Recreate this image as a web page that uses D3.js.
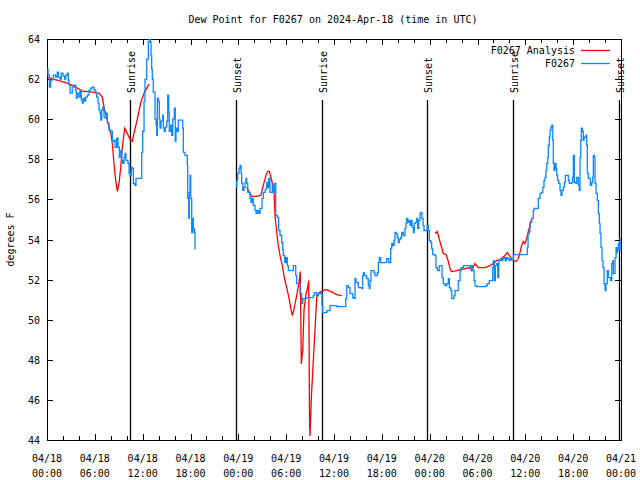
<!DOCTYPE html>
<html><head><meta charset="utf-8">
<script src="https://cdn.jsdelivr.net/npm/d3@7"></script>
<style>body{margin:0;background:#fff}svg{display:block}text{font-family:"DejaVu Sans Mono","Liberation Mono",monospace;font-size:10px;fill:#000}</style>
</head><body><svg id="c" width="640" height="480"></svg>
<script>
const title = "Dew Point for F0267 on 2024-Apr-18 (time in UTC)";
const yLabel = "degrees F";
const seriesNames = ["F0267 Analysis", "F0267"];
const startTime = "2024-04-18T00:00:00Z";
const endTime = "2024-04-21T00:00:00Z";
const yTicks = [44,46,48,50,52,54,56,58,60,62,64];
// hours since 04/18 00:00 UTC, dew point °F
const obsSeg1 = [[0.04,62.5],[0.13,62.2],[0.30,61.6],[0.46,61.95],[0.66,62.0],[0.79,62.2],[1.09,62.1],[1.29,62.35],[1.42,62.1],[1.63,62.0],[1.79,62.3],[2.01,62.15],[2.22,62.0],[2.35,62.2],[2.55,62.3],[2.67,61.95],[2.76,61.7],[2.89,61.3],[3.05,61.3],[3.17,61.6],[3.39,61.7],[3.60,61.45],[3.68,61.05],[3.80,61.3],[4.01,61.1],[4.14,61.4],[4.30,60.95],[4.43,60.8],[4.55,61.05],[4.73,60.9],[4.85,61.1],[5.06,61.2],[5.27,61.45],[5.48,61.55],[5.68,61.6],[5.90,61.45],[6.11,61.3],[6.23,61.1],[6.40,60.8],[6.52,60.45],[6.65,60.3],[6.74,59.95],[6.86,60.45],[6.99,60.6],[7.15,60.1],[7.31,60.05],[7.49,60.3],[7.56,59.8],[7.78,59.45],[7.99,59.4],[8.19,58.9],[8.40,58.95],[8.53,58.6],[8.74,59.05],[8.91,58.6],[9.07,58.1],[9.25,58.45],[9.37,57.95],[9.50,57.8],[9.66,58.1],[9.78,58.3],[9.91,57.95],[10.16,57.8],[10.29,57.3],[10.41,57.2],[10.57,57.6],[10.70,57.55],[10.83,56.8],[11.00,56.7],[11.16,57.05],[11.75,57.05],[11.88,58.35],[12.00,59.4],[12.17,60.9],[12.29,62.0],[12.51,63.0],[12.71,63.85],[12.83,64.3],[12.96,63.85],[13.05,63.2],[13.13,62.5],[13.21,62.0],[13.33,61.35],[13.46,61.35],[13.55,60.0],[13.67,59.7],[13.76,59.2],[13.84,61.05],[13.96,60.9],[14.09,60.0],[14.17,59.55],[14.30,59.9],[14.51,60.2],[14.59,59.55],[14.71,59.4],[14.84,59.6],[15.02,59.9],[15.14,61.2],[15.27,60.35],[15.34,59.4],[15.52,59.7],[15.64,59.2],[15.77,60.0],[15.97,60.55],[16.09,58.9],[16.18,59.55],[16.35,59.4],[16.47,59.95],[17.02,59.55],[17.10,58.35],[17.31,58.2],[17.60,57.7],[17.65,56.05],[17.78,55.05],[17.85,56.35],[17.94,57.2],[18.03,56.05],[18.15,54.35],[18.28,55.05],[18.35,54.55],[18.48,54.35],[18.57,53.5]];
const obsSeg2 = [[23.71,56.6],[23.80,56.95],[23.92,57.3],[24.09,57.55],[24.21,57.7],[24.34,57.3],[24.42,56.8],[24.55,56.45],[24.71,56.6],[24.84,56.85],[24.96,57.05],[25.05,56.8],[25.18,56.35],[25.46,56.05],[25.59,55.85],[25.72,56.05],[25.88,55.7],[26.09,55.45],[26.22,55.3],[26.38,55.45],[26.56,55.3],[26.72,55.55],[26.97,56.05],[27.13,56.35],[27.38,56.5],[27.56,56.85],[27.68,56.6],[27.81,57.05],[27.97,56.35],[28.26,56.7],[28.39,56.35],[28.51,56.8],[28.69,55.2],[28.89,55.1],[29.06,54.45],[29.23,54.2],[29.44,53.85],[29.57,53.5],[29.64,53.2],[29.82,52.85],[29.98,53.1],[30.14,52.7],[30.27,52.45],[30.90,52.7],[31.20,52.2],[31.32,51.8],[31.52,51.8],[31.74,51.3],[31.95,50.8],[32.08,51.05],[32.49,51.1],[33.40,51.2],[33.53,51.35],[33.83,51.2],[34.03,51.3],[34.25,51.35],[34.37,51.3],[34.50,50.7],[34.58,50.35],[35.09,50.45],[35.50,50.7],[36.34,50.65],[37.47,51.05],[37.60,51.7],[37.80,51.6],[38.01,51.3],[38.35,51.1],[38.51,51.05],[38.64,52.05],[38.76,51.85],[39.05,51.6],[39.48,51.55],[39.60,52.2],[39.68,52.35],[39.80,52.2],[40.10,52.05],[40.30,51.7],[40.43,51.55],[40.52,51.95],[40.64,52.45],[41.02,52.35],[41.14,52.2],[41.43,52.35],[41.56,52.85],[41.68,53.1],[41.86,52.85],[42.61,53.05],[42.86,52.85],[43.11,53.55],[43.24,53.8],[43.37,53.7],[43.53,53.95],[43.65,54.35],[43.78,54.3],[43.94,54.1],[44.07,53.85],[44.19,54.0],[44.37,54.1],[44.49,54.35],[44.70,54.2],[44.91,54.55],[45.03,54.8],[45.12,55.05],[45.25,54.85],[45.37,54.95],[45.54,54.7],[45.66,54.95],[45.79,54.6],[45.95,54.35],[46.07,54.8],[46.20,54.85],[46.38,55.05],[46.50,54.55],[46.63,54.95],[46.79,55.3],[46.92,55.35],[47.04,55.05],[47.17,54.7],[47.29,54.45],[47.70,54.7],[47.83,54.45],[47.96,53.95],[48.13,53.85],[48.25,53.55],[48.38,53.25],[48.67,53.2],[48.79,52.6],[48.96,52.45],[49.21,52.7],[49.42,52.7],[49.55,52.1],[49.71,51.8],[49.92,51.7],[50.14,51.8],[50.34,52.05],[50.47,51.6],[50.64,51.45],[50.77,51.05],[51.06,51.2],[51.18,51.45],[51.59,51.95],[51.81,52.45],[51.93,52.6],[52.22,52.7],[53.15,52.6],[53.28,52.7],[53.40,52.45],[53.57,51.95],[53.69,51.7],[53.90,51.65],[55.07,51.7],[55.23,51.8],[55.48,51.95],[55.91,52.6],[55.99,52.95],[56.12,51.95],[56.24,52.7],[56.42,52.8],[56.54,52.1],[56.67,52.95],[56.83,53.0],[57.04,52.95],[57.17,53.05],[57.33,53.1],[57.49,52.95],[57.66,53.1],[57.83,53.05],[57.99,52.95],[58.17,53.05],[58.30,53.0],[58.50,53.25],[60.25,53.6],[60.34,54.3],[60.50,54.4],[60.59,54.85],[60.80,55.05],[61.00,55.45],[61.09,55.55],[61.50,55.55],[61.63,56.05],[61.84,56.3],[62.05,56.35],[62.18,56.6],[62.34,56.95],[62.47,57.1],[62.59,57.45],[62.68,57.8],[62.81,58.1],[62.89,58.7],[63.01,59.1],[63.10,59.45],[63.22,59.6],[63.31,59.7],[63.44,58.95],[63.51,57.8],[63.60,57.45],[63.72,57.8],[63.85,57.55],[63.94,57.2],[64.06,56.95],[64.19,56.8],[64.35,56.45],[64.48,56.2],[64.60,56.45],[64.77,56.6],[64.89,56.85],[65.02,57.2],[65.27,57.2],[65.40,56.95],[65.52,56.8],[65.82,56.85],[65.95,57.1],[66.02,58.2],[66.15,56.85],[66.32,56.8],[66.45,57.1],[66.65,56.7],[66.77,56.45],[66.86,58.1],[66.95,58.95],[67.02,59.55],[67.15,59.4],[67.27,58.95],[67.36,59.1],[67.61,59.2],[67.70,58.7],[67.78,57.3],[67.90,57.05],[68.15,56.7],[68.33,56.85],[68.45,57.1],[68.53,58.2],[68.66,58.1],[68.74,56.8],[68.87,56.3],[69.03,55.95],[69.16,55.3],[69.28,54.8],[69.37,54.3],[69.49,53.6],[69.62,52.95],[69.74,52.6],[69.87,51.8],[70.00,51.45],[70.12,51.8],[70.28,52.45],[70.41,52.1],[70.71,51.95],[70.84,52.8],[70.96,52.95],[71.04,52.3],[71.25,53.1],[71.38,53.6],[71.47,53.35],[71.54,53.5],[71.67,53.8],[71.79,53.45],[71.88,54.1]];
const anaSeg1 = [[0.13,62.1],[0.66,62.0],[1.29,61.95],[2.55,61.8],[3.39,61.65],[4.43,61.4],[5.68,61.35],[6.52,61.3],[6.94,61.1],[7.15,60.6],[7.56,59.95],[7.99,59.3],[8.19,58.8],[8.40,57.8],[8.62,56.95],[8.82,56.4],[9.03,56.8],[9.25,57.6],[9.45,58.6],[9.75,59.55],[10.07,59.3],[10.41,59.0],[10.70,58.9],[10.91,59.3],[11.33,60.0],[11.75,60.8],[12.17,61.3],[12.79,61.75]];
const anaSeg2 = [[25.05,56.6],[25.25,56.45],[25.68,56.15],[26.31,56.15],[26.81,56.2],[27.13,56.7],[27.47,57.2],[27.68,57.4],[27.89,57.4],[28.19,56.95],[28.31,56.7],[28.48,56.4],[28.60,55.2],[28.81,54.4],[29.01,53.7],[29.23,53.2],[29.52,52.7],[29.77,52.1],[30.07,51.6],[30.39,51.0],[30.61,50.5],[30.77,50.2],[31.02,50.6],[31.32,51.2],[31.61,51.85],[31.77,52.4],[31.90,47.8],[32.08,48.5],[32.24,50.5],[32.49,51.3],[32.70,51.6],[32.83,51.95],[32.93,45.0],[32.99,44.2],[33.18,46.3],[33.40,47.9],[33.66,49.8],[33.83,51.1],[33.99,51.3],[34.37,51.4],[34.87,51.5],[35.37,51.45],[35.88,51.35],[36.34,51.25],[36.97,51.2]];
const anaSeg3 = [[48.67,54.3],[48.96,54.4],[49.21,54.0],[49.51,53.6],[49.71,53.3],[50.05,53.25],[50.34,52.9],[50.64,52.45],[50.77,52.4],[51.39,52.45],[51.89,52.5],[52.43,52.55],[53.06,52.6],[53.28,52.45],[53.69,52.8],[54.10,52.6],[54.94,52.6],[55.57,52.7],[55.99,52.8],[56.42,52.95],[56.83,53.0],[57.17,53.1],[57.45,53.2],[57.74,53.35],[58.08,53.15],[58.50,52.95],[58.83,52.9],[59.12,53.05],[59.33,53.35],[59.54,53.7],[59.74,53.9],[59.96,53.8],[60.17,54.05],[60.37,54.4],[60.59,54.7],[60.80,55.05]];
const sunHours = [10.41, 23.71, 34.50, 47.67, 58.45, 71.75];
const sunLabels = ["Sunrise","Sunset","Sunrise","Sunset","Sunrise","Sunset"];
const colors = {analysis:"#ff0000", obs:"#0a88ff"};

const svg = d3.select("#c");
const M = {l:47, r:621, t:39, b:440};
const t0 = new Date(startTime), t1 = new Date(endTime);
const toDate = h => new Date(t0.getTime() + h*3600e3);
const x = d3.scaleUtc().domain([t0,t1]).range([M.l,M.r]);
const y = d3.scaleLinear().domain([44,64]).range([M.b,M.t]);

svg.append("defs").append("clipPath").attr("id","clip").append("rect")
  .attr("x",M.l).attr("y",M.t).attr("width",M.r-M.l).attr("height",M.b-M.t);

svg.append("text").attr("x",333).attr("y",23).attr("text-anchor","middle").text(title);
svg.append("text").attr("transform",`translate(14,${(M.t+M.b)/2}) rotate(-90)`).attr("text-anchor","middle").text(yLabel);

svg.append("rect").attr("x",M.l+0.5).attr("y",M.t+0.5).attr("width",M.r-M.l).attr("height",M.b-M.t)
  .attr("fill","none").attr("stroke","#000").attr("stroke-width",1);

const g = svg.append("g").attr("shape-rendering","crispEdges");
yTicks.forEach(v=>{
  const yy = Math.round(y(v))+0.5;
  g.append("line").attr("x1",M.l).attr("x2",M.l+6).attr("y1",yy).attr("y2",yy).attr("stroke","#000");
  g.append("line").attr("x1",M.r-6).attr("x2",M.r).attr("y1",yy).attr("y2",yy).attr("stroke","#000");
  svg.append("text").attr("x",M.l-7).attr("y",yy+3.5).attr("text-anchor","end").text(v);
});
const major = d3.utcHour.every(6).range(t0, new Date(t1.getTime()+1));
const minor = d3.utcHour.every(2).range(t0, new Date(t1.getTime()+1));
minor.forEach(d=>{
  const xx = Math.round(x(d))+0.5;
  const len = (d.getUTCHours()%6===0)?6:4;
  g.append("line").attr("x1",xx).attr("x2",xx).attr("y1",M.b).attr("y2",M.b-len).attr("stroke","#000");
  g.append("line").attr("x1",xx).attr("x2",xx).attr("y1",M.t).attr("y2",M.t+len).attr("stroke","#000");
});
const fd = d3.utcFormat("%m/%d"), ft = d3.utcFormat("%H:%M");
major.forEach(d=>{
  const xx = x(d);
  svg.append("text").attr("x",xx).attr("y",462).attr("text-anchor","middle").text(fd(d));
  svg.append("text").attr("x",xx).attr("y",477).attr("text-anchor","middle").text(ft(d));
});

sunHours.forEach((h,i)=>{
  const xx = Math.round(x(toDate(h)))+0.5;
  svg.append("line").attr("x1",xx).attr("x2",xx).attr("y1",100).attr("y2",M.b)
    .attr("stroke","#000").attr("stroke-width",1.3);
  svg.append("text").attr("transform",`translate(${xx+4},93) rotate(-90)`).text(sunLabels[i]);
});

const plot = svg.append("g").attr("clip-path","url(#clip)");
const lineObs = d3.line().x(d=>x(toDate(d[0]))).y(d=>y(d[1])).curve(d3.curveStepAfter);
const lineAna = d3.line().x(d=>x(toDate(d[0]))).y(d=>y(d[1]));
[anaSeg1,anaSeg2,anaSeg3].forEach(s=>plot.append("path").attr("d",lineAna(s)).attr("fill","none")
  .attr("stroke",colors.analysis).attr("stroke-width",1.3));
[obsSeg1,obsSeg2].forEach(s=>plot.append("path").attr("d",lineObs(s)).attr("fill","none")
  .attr("stroke",colors.obs).attr("stroke-width",1.3));

const lg = [[seriesNames[0],colors.analysis,50],[seriesNames[1],colors.obs,63]];
lg.forEach(([name,c,yy])=>{
  svg.append("text").attr("x",575).attr("y",yy+3.5).attr("text-anchor","end").text(name);
  svg.append("line").attr("x1",581).attr("x2",610).attr("y1",yy+0.5).attr("y2",yy+0.5).attr("stroke",c).attr("stroke-width",1.3);
});
</script></body></html>
